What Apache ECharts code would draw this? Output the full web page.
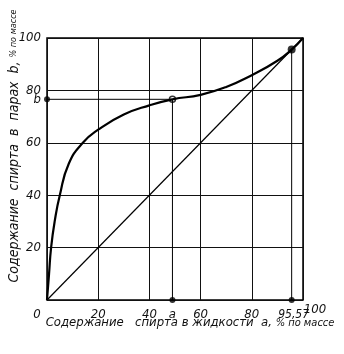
<!DOCTYPE html>
<html><head><meta charset="utf-8">
<script src="https://cdn.jsdelivr.net/npm/echarts@6/dist/echarts.min.js"></script>
<style>html,body{margin:0;padding:0;background:#fff}#c{width:344px;height:354px}</style>
</head><body><div id="c"></div>
<script>
// Equilibrium curve (liquid a, vapour b), % by mass
const liquidA = [0, 0.8, 1.6, 3, 5, 8.5, 14, 20, 30, 40, 49, 60, 70, 80, 90, 95.57, 100];
const vaporB  = [0, 10, 20, 30, 40, 52, 60, 65, 70.8, 74.3, 76.6, 78.3, 81.3, 85.8, 91.3, 95.57, 100];
const diagonal = [[0, 0], [100, 100]];
const pointA = 49, pointB = 76.6, azeo = 95.57;
const xTickValues = [0, 20, 40, pointA, 60, 80, azeo];
const xTickLabels = ['0', '20', '40', 'a', '60', '80', '95,57'];
const xEndValue = [100];
const xEndLabel = ['100'];
const yTickValues = [20, 40, 60, pointB, 80, 100];
const yTickLabels = ['20', '40', '60', 'b', '80', '100'];
const xTitle = 'Содержание   спирта в жидкости  a, ';
const yTitle = 'Содержание  спирта  в  парах  b, ';
const unitText = '% по массе';

const FONT = '"Liberation Sans Narrow", "DejaVu Sans Condensed", "Liberation Sans", sans-serif';
const chart = echarts.init(document.getElementById('c'), null, {renderer: 'canvas'});
const curve = liquidA.map((x, i) => [x, vaporB[i]]);
const xLab = v => xTickLabels[xTickValues.indexOf(v)] ?? '';
const yLab = v => yTickLabels[yTickValues.indexOf(v)] ?? '';
const base = {fontFamily: FONT, fontStyle: 'italic', fontSize: 13, color: '#111'};

chart.setOption({
  animation: false,
  backgroundColor: '#fff',
  grid: {left: 47, right: 41, top: 38, bottom: 54, show: true, borderColor: '#000', borderWidth: 1.5, backgroundColor: 'transparent'},
  xAxis: [{
    type: 'value', min: 0, max: 100, interval: 20,
    axisLine: {show: false}, axisTick: {show: false},
    splitLine: {show: true, lineStyle: {color: '#111', width: 1}},
    axisLabel: {
      customValues: xTickValues, margin: 3, hideOverlap: false,
      ...base,
      formatter: v => {
        const t = xLab(v);
        if (t === '0') return '{z|0}';
        if (t === '95,57') return '{n|95,57}';
        return '{d|' + t + '}';
      },
      rich: {
        d: {...base, padding: [5, 0, 0, 0]},
        z: {...base, padding: [5, 20, 0, 0]},
        n: {...base, fontSize: 12, padding: [6, 0, 0, 4]}
      }
    }
  }, {
    type: 'value', min: 0, max: 100, position: 'bottom',
    axisLine: {show: false}, axisTick: {show: false}, splitLine: {show: false},
    axisLabel: {
      customValues: xEndValue, margin: 3, showMaxLabel: true,
      ...base,
      formatter: v => '{h|' + xEndLabel[xEndValue.indexOf(v)] + '}',
      rich: {h: {...base, padding: [0, 0, 0, 24]}}
    }
  }],
  yAxis: {
    type: 'value', min: 0, max: 100, interval: 20,
    axisLine: {show: false}, axisTick: {show: false},
    splitLine: {show: true, lineStyle: {color: '#111', width: 1}},
    axisLabel: {
      customValues: yTickValues, margin: 6, showMaxLabel: true,
      ...base,
      formatter: v => yLab(v)
    }
  },
  series: [
    {type: 'line', data: curve, smooth: 0.5, showSymbol: false, symbol: 'none',
     lineStyle: {color: '#000', width: 2.2}, clip: true},
    {type: 'line', data: diagonal, showSymbol: false, symbol: 'none',
     lineStyle: {color: '#000', width: 1.2}},
    {type: 'line', data: [[0, pointB], [pointA, pointB], [pointA, 0]], showSymbol: false, symbol: 'none',
     lineStyle: {color: '#000', width: 1}},
    {type: 'line', data: [[azeo, azeo], [azeo, 0]], showSymbol: false, symbol: 'none',
     lineStyle: {color: '#000', width: 1}},
    {type: 'scatter', data: [[0, pointB], [pointA, 0], [azeo, 0]], symbolSize: 6, clip: false,
     itemStyle: {color: '#000'}},
    {type: 'scatter', data: [[azeo, azeo]], symbolSize: 8, clip: false, itemStyle: {color: '#000'}},
    {type: 'scatter', data: [[pointA, pointB]], symbolSize: 6, clip: false,
     itemStyle: {color: '#fff', borderColor: '#000', borderWidth: 1.5}}
  ],
  graphic: [
    {type: 'text', x: 190, y: 323, style: {
      text: '{t|' + xTitle + '}{u|' + unitText + '}',
      align: 'center', verticalAlign: 'middle',
      rich: {t: {fontFamily: FONT, fontStyle: 'italic', fontSize: 13, fill: '#111'},
             u: {fontFamily: FONT, fontStyle: 'italic', fontSize: 11, fill: '#111'}}
    }},
    {type: 'text', x: 14, y: 146, rotation: Math.PI / 2, style: {
      text: '{t|' + yTitle + '}{u|' + unitText + '}',
      align: 'center', verticalAlign: 'middle',
      rich: {t: {fontFamily: FONT, fontStyle: 'italic', fontSize: 14, fill: '#111'},
             u: {fontFamily: FONT, fontStyle: 'italic', fontSize: 9, fill: '#111'}}
    }}
  ]
});
</script></body></html>
